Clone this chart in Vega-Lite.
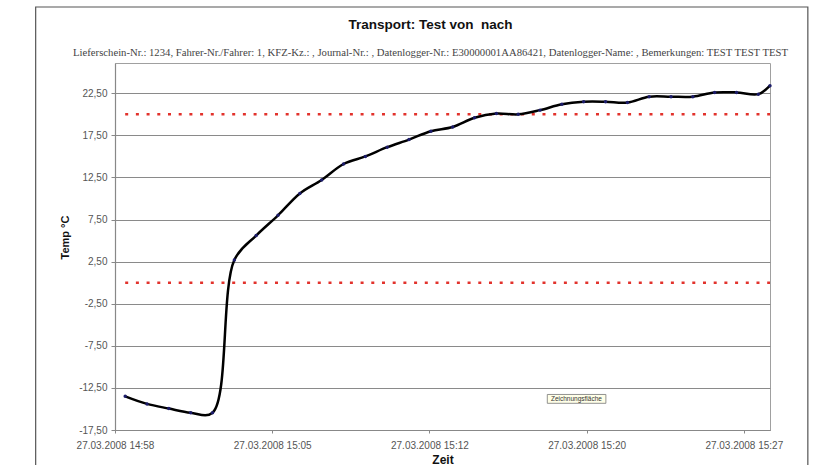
{
  "$schema": "https://vega.github.io/schema/vega-lite/v6.json",
  "width": 655,
  "height": 367,
  "autosize": {"type": "none"},
  "padding": {"left": 115, "top": 63, "right": 68, "bottom": 35},
  "background": "white",
  "title": {
    "text": "Transport: Test von\u00a0 nach",
    "subtitle": "Lieferschein-Nr.: 1234, Fahrer-Nr./Fahrer: 1, KFZ-Kz.: , Journal-Nr.: , Datenlogger-Nr.: E30000001AA86421, Datenlogger-Name: , Bemerkungen: TEST TEST TEST",
    "anchor": "middle",
    "frame": "group",
    "dx": -12,
    "dy": 54.5,
    "font": "Liberation Sans",
    "fontSize": 13.5,
    "fontWeight": "bold",
    "color": "#111111",
    "subtitleFont": "Liberation Serif",
    "subtitleFontSize": 10.7,
    "subtitleColor": "#444444",
    "subtitlePadding": 17,
    "offset": 3
  },
  "datasets": {
    "temps": [
      {"t": "2008-03-27T14:58:28", "v": -13.5},
      {"t": "2008-03-27T14:59:28", "v": -14.4},
      {"t": "2008-03-27T15:00:28", "v": -14.95},
      {"t": "2008-03-27T15:01:28", "v": -15.45},
      {"t": "2008-03-27T15:02:28", "v": -15.45},
      {"t": "2008-03-27T15:03:28", "v": 2.7},
      {"t": "2008-03-27T15:04:28", "v": 5.6},
      {"t": "2008-03-27T15:05:28", "v": 8.0},
      {"t": "2008-03-27T15:06:28", "v": 10.6},
      {"t": "2008-03-27T15:07:28", "v": 12.2},
      {"t": "2008-03-27T15:08:28", "v": 14.1},
      {"t": "2008-03-27T15:09:28", "v": 15.0},
      {"t": "2008-03-27T15:10:28", "v": 16.1},
      {"t": "2008-03-27T15:11:28", "v": 17.0},
      {"t": "2008-03-27T15:12:28", "v": 18.0},
      {"t": "2008-03-27T15:13:28", "v": 18.5},
      {"t": "2008-03-27T15:14:28", "v": 19.6},
      {"t": "2008-03-27T15:15:28", "v": 20.1},
      {"t": "2008-03-27T15:16:28", "v": 20.0},
      {"t": "2008-03-27T15:17:28", "v": 20.5},
      {"t": "2008-03-27T15:18:28", "v": 21.2},
      {"t": "2008-03-27T15:19:28", "v": 21.5},
      {"t": "2008-03-27T15:20:28", "v": 21.5},
      {"t": "2008-03-27T15:21:28", "v": 21.4},
      {"t": "2008-03-27T15:22:28", "v": 22.1},
      {"t": "2008-03-27T15:23:28", "v": 22.1},
      {"t": "2008-03-27T15:24:28", "v": 22.1},
      {"t": "2008-03-27T15:25:28", "v": 22.6},
      {"t": "2008-03-27T15:26:28", "v": 22.6},
      {"t": "2008-03-27T15:27:28", "v": 22.4},
      {"t": "2008-03-27T15:28:00", "v": 23.4}
    ],
    "limits": [
      {"t": "2008-03-27T14:58:28", "v": 20, "limit": "max"},
      {"t": "2008-03-27T15:28:00", "v": 20, "limit": "max"},
      {"t": "2008-03-27T14:58:28", "v": 0, "limit": "min"},
      {"t": "2008-03-27T15:28:00", "v": 0, "limit": "min"}
    ]
  },
  "layer": [
    {
      "data": {"values": [{}]},
      "mark": {"type": "rect", "fill": "transparent", "stroke": "#555555", "strokeWidth": 1.2, "clip": false},
      "encoding": {
        "x": {"datum": {"year": 2008, "month": 3, "date": 27, "hours": 14, "minutes": 54, "seconds": 22}, "type": "temporal"},
        "x2": {"datum": {"year": 2008, "month": 3, "date": 27, "hours": 15, "minutes": 29, "seconds": 44}},
        "y": {"datum": 32.75, "type": "quantitative"},
        "y2": {"datum": -23}
      }
    },
    {
      "data": {"name": "limits"},
      "mark": {"type": "line", "color": "#e2322c", "strokeWidth": 2.5, "strokeDash": [3, 7.7]},
      "encoding": {
        "x": {"field": "t", "type": "temporal"},
        "y": {"field": "v", "type": "quantitative"},
        "detail": {"field": "limit"}
      }
    },
    {
      "data": {"name": "temps"},
      "mark": {"type": "line", "color": "#000000", "strokeWidth": 2.5, "interpolate": "catmull-rom"},
      "encoding": {
        "x": {
          "field": "t",
          "type": "temporal",
          "title": "Zeit",
          "scale": {
            "domain": [
              {"year": 2008, "month": 3, "date": 27, "hours": 14, "minutes": 58},
              {"year": 2008, "month": 3, "date": 27, "hours": 15, "minutes": 28}
            ]
          },
          "axis": {
            "values": [
              {"year": 2008, "month": 3, "date": 27, "hours": 14, "minutes": 58, "seconds": 0},
              {"year": 2008, "month": 3, "date": 27, "hours": 15, "minutes": 5, "seconds": 12},
              {"year": 2008, "month": 3, "date": 27, "hours": 15, "minutes": 12, "seconds": 24},
              {"year": 2008, "month": 3, "date": 27, "hours": 15, "minutes": 19, "seconds": 36},
              {"year": 2008, "month": 3, "date": 27, "hours": 15, "minutes": 26, "seconds": 48}
            ],
            "labelExpr": "timeFormat(time(datum.value) + 30000, '%d.%m.%Y %H:%M')",
            "grid": false,
            "tickSize": 3,
            "labelPadding": 7,
            "labelFlush": false,
            "labelOverlap": false,
            "titlePadding": 4,
            "titleFontSize": 12
          }
        },
        "y": {
          "field": "v",
          "type": "quantitative",
          "title": "Temp °C",
          "scale": {"domain": [-17.5, 26.1], "nice": false, "zero": false},
          "axis": {
            "values": [-17.5, -12.5, -7.5, -2.5, 2.5, 7.5, 12.5, 17.5, 22.5],
            "labelExpr": "(datum.value < 0 ? '-' : '') + replace(format(abs(datum.value), '.2f'), '.', ',')",
            "grid": true,
            "tickSize": 4,
            "labelPadding": 4,
            "titleX": -50,
            "titleY": 174,
            "titleBaseline": "middle",
            "titleFontSize": 11
          }
        }
      }
    },
    {
      "data": {"name": "temps"},
      "mark": {"type": "point", "filled": true, "size": 12, "color": "#1c1c6a", "opacity": 1},
      "encoding": {
        "x": {"field": "t", "type": "temporal"},
        "y": {"field": "v", "type": "quantitative"}
      }
    },
    {
      "data": {"values": [{}]},
      "mark": {"type": "rect", "fill": "#ffffe8", "stroke": "#777777", "strokeWidth": 0.8},
      "encoding": {
        "x": {"datum": {"year": 2008, "month": 3, "date": 27, "hours": 15, "minutes": 17, "seconds": 48}, "type": "temporal"},
        "x2": {"datum": {"year": 2008, "month": 3, "date": 27, "hours": 15, "minutes": 20, "seconds": 29}},
        "y": {"datum": -13.28, "type": "quantitative"},
        "y2": {"datum": -14.33}
      }
    },
    {
      "data": {"values": [{}]},
      "mark": {"type": "text", "text": "Zeichnungsfläche", "fontSize": 6.5, "color": "#333333", "font": "Liberation Sans"},
      "encoding": {
        "x": {"datum": {"year": 2008, "month": 3, "date": 27, "hours": 15, "minutes": 19, "seconds": 8}, "type": "temporal"},
        "y": {"datum": -13.8, "type": "quantitative"}
      }
    }
  ],
  "config": {
    "font": "Liberation Sans",
    "view": {"stroke": "#a0a0a0", "strokeWidth": 1},
    "axis": {
      "domainColor": "#888888",
      "domainWidth": 1.2,
      "tickColor": "#888888",
      "gridColor": "#8a8a8a",
      "gridWidth": 1.2,
      "labelColor": "#555555",
      "labelFontSize": 10,
      "labelFont": "Liberation Sans",
      "titleFont": "Liberation Sans",
      "titleFontWeight": "bold",
      "titleColor": "#111111"
    }
  }
}
